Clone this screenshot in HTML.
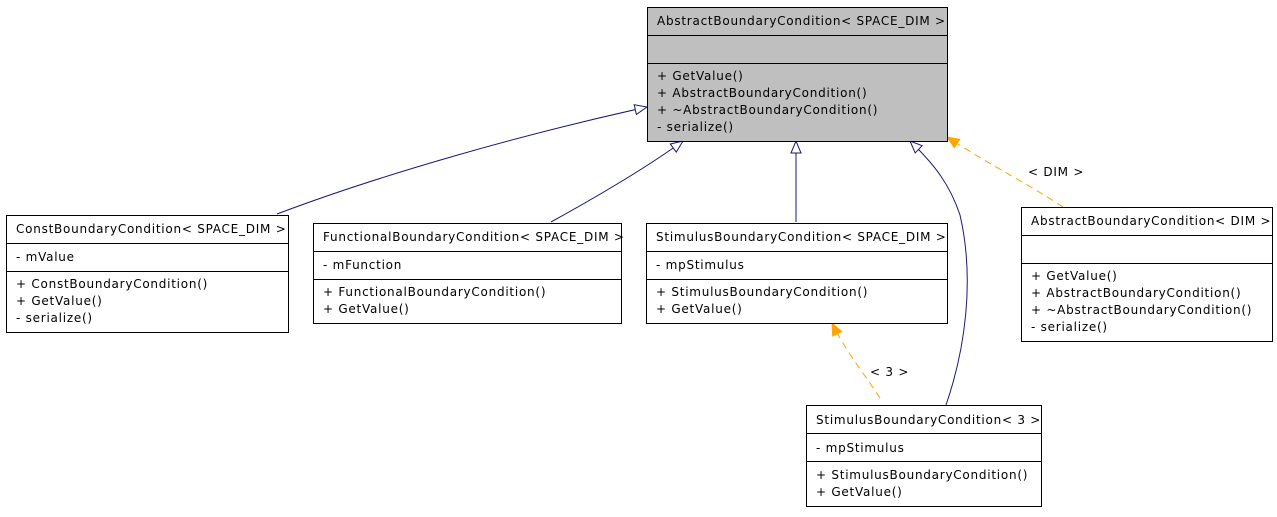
<!DOCTYPE html><html><head><style>body{margin:0;background:#fff}svg text{font-family:"DejaVu Sans","Liberation Sans",sans-serif;font-size:12px;letter-spacing:0.75px;fill:#000}</style></head><body>
<svg width="1277" height="512" xmlns="http://www.w3.org/2000/svg">
<defs>
<marker id="h" markerWidth="14" markerHeight="12" refX="13" refY="6" orient="auto" markerUnits="userSpaceOnUse"><path d="M1,1 L13,6 L1,11 Z" fill="#fff" stroke="#191970"/></marker>
<marker id="o" markerWidth="14" markerHeight="12" refX="13" refY="6" orient="auto" markerUnits="userSpaceOnUse"><path d="M1,1 L13,6 L1,11 Z" fill="orange" stroke="orange"/></marker>
</defs>
<g fill="none" stroke="#191970" stroke-width="1">
<path d="M277,214 C380,175 520,135 647,107" marker-end="url(#h)"/>
<path d="M551,222 C600,195 650,165 683,141" marker-end="url(#h)"/>
<path d="M796,222 L796,141" marker-end="url(#h)"/>
<path d="M946,405 C965,350 975,280 960,215 C950,185 935,165 910,141" marker-end="url(#h)"/>
</g>
<g fill="none" stroke="orange" stroke-dasharray="7,5">
<path d="M1063,207 C1030,185 990,165 947,137" marker-end="url(#o)"/>
<path d="M880,398 C865,375 845,350 832,323" marker-end="url(#o)"/>
</g>
<text x="1028" y="176">&lt; DIM &gt;</text>
<text x="870" y="376">&lt; 3 &gt;</text>
<g stroke="#000" stroke-width="1">
<rect x="647.5" y="7.5" width="300" height="134" fill="#bfbfbf"/>
<line x1="647" y1="35.5" x2="948" y2="35.5"/><line x1="647" y1="63.5" x2="948" y2="63.5"/>
<rect x="6.5" y="215.5" width="282" height="117" fill="#fff"/>
<line x1="6" y1="243.5" x2="289" y2="243.5"/><line x1="6" y1="271.5" x2="289" y2="271.5"/>
<rect x="313.5" y="223.5" width="308" height="100" fill="#fff"/>
<line x1="313" y1="251.5" x2="622" y2="251.5"/><line x1="313" y1="279.5" x2="622" y2="279.5"/>
<rect x="646.5" y="223.5" width="301" height="100" fill="#fff"/>
<line x1="646" y1="251.5" x2="948" y2="251.5"/><line x1="646" y1="279.5" x2="948" y2="279.5"/>
<rect x="1021.5" y="207.5" width="251" height="134" fill="#fff"/>
<line x1="1021" y1="235.5" x2="1273" y2="235.5"/><line x1="1021" y1="263.5" x2="1273" y2="263.5"/>
<rect x="806.5" y="405.5" width="235" height="101" fill="#fff"/>
<line x1="806" y1="433.5" x2="1042" y2="433.5"/><line x1="806" y1="461.5" x2="1042" y2="461.5"/>
</g>
<text x="657" y="25">AbstractBoundaryCondition&lt; SPACE_DIM &gt;</text>
<text x="657" y="80">+ GetValue()</text><text x="657" y="97">+ AbstractBoundaryCondition()</text><text x="657" y="114">+ ~AbstractBoundaryCondition()</text><text x="657" y="131">- serialize()</text>
<text x="16" y="233">ConstBoundaryCondition&lt; SPACE_DIM &gt;</text>
<text x="16" y="261">- mValue</text>
<text x="16" y="288">+ ConstBoundaryCondition()</text><text x="16" y="305">+ GetValue()</text><text x="16" y="322">- serialize()</text>
<text x="323" y="241">FunctionalBoundaryCondition&lt; SPACE_DIM &gt;</text>
<text x="323" y="269">- mFunction</text>
<text x="323" y="296">+ FunctionalBoundaryCondition()</text><text x="323" y="313">+ GetValue()</text>
<text x="656" y="241">StimulusBoundaryCondition&lt; SPACE_DIM &gt;</text>
<text x="656" y="269">- mpStimulus</text>
<text x="656" y="296">+ StimulusBoundaryCondition()</text><text x="656" y="313">+ GetValue()</text>
<text x="1031" y="225">AbstractBoundaryCondition&lt; DIM &gt;</text>
<text x="1031" y="280">+ GetValue()</text><text x="1031" y="297">+ AbstractBoundaryCondition()</text><text x="1031" y="314">+ ~AbstractBoundaryCondition()</text><text x="1031" y="331">- serialize()</text>
<text x="816" y="424">StimulusBoundaryCondition&lt; 3 &gt;</text>
<text x="816" y="452">- mpStimulus</text>
<text x="816" y="479">+ StimulusBoundaryCondition()</text><text x="816" y="496">+ GetValue()</text>
</svg></body></html>
